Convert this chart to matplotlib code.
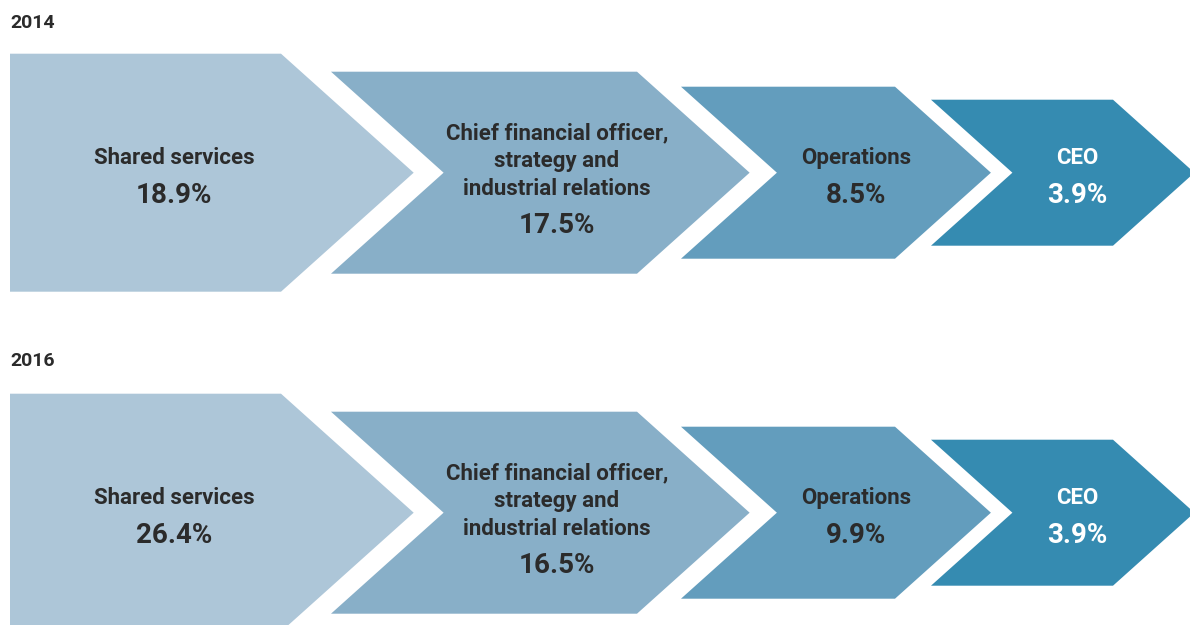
import matplotlib.pyplot as plt
from matplotlib.patches import Polygon

# data
years = ["2014", "2016"]
categories = ["Shared services",
              "Chief financial officer,\nstrategy and\nindustrial relations",
              "Operations",
              "CEO"]
share_2014 = [18.9, 17.5, 8.5, 3.9]
share_2016 = [26.4, 16.5, 9.9, 3.9]
shares = [share_2014, share_2016]

# chevron layout (pixels)
left_x = [10, 331, 681, 931]
body_len = [271, 306, 214, 182]
heights = [238, 202, 172, 146]
text_x = [174, 557, 856, 1077]
colors = ["#adc6d8", "#88afc8", "#639dbd", "#358bb1"]
text_colors = ["#2b2b2b", "#2b2b2b", "#2b2b2b", "white"]
row_mid = [172.7, 512.7]
year_y = [22.7, 360.7]
tip_ratio = 1.115

plt.rcParams['font.family'] = ['Roboto', 'DejaVu Sans']

fig = plt.figure(figsize=(11.9, 6.25), dpi=100)
ax = fig.add_axes([0, 0, 1, 1])
ax.set_xlim(0, 1190)
ax.set_ylim(625, 0)
ax.axis("off")

for r, year in enumerate(years):
    ym = row_mid[r]
    ax.text(10, year_y[r], year, fontsize=14, fontweight="bold",
            color="#2b2b2b", ha="left", va="center")
    for i, cat in enumerate(categories):
        h = heights[i] / 2
        d = h * tip_ratio
        x0 = left_x[i]
        x1 = x0 + body_len[i]
        pts = [(x0, ym - h), (x1, ym - h), (x1 + d, ym), (x1, ym + h), (x0, ym + h)]
        if i > 0:
            pts.append((x0 + d, ym))
        ax.add_patch(Polygon(pts, closed=True, facecolor=colors[i], edgecolor="none"))

        # vertical offsets of label block and percentage from the row middle
        n = cat.count("\n") + 1
        pct_dy = 22.7 + (n - 1) * 15
        lab_dy = pct_dy - 37.7 - (n - 1) * 13.5 + 0.3
        ax.text(text_x[i], ym + lab_dy, cat, fontsize=16, fontweight="bold",
                color=text_colors[i], ha="center", va="center", linespacing=1.33)
        ax.text(text_x[i], ym + pct_dy, f"{shares[r][i]:.1f}%", fontsize=20,
                fontweight="bold", color=text_colors[i], ha="center", va="center")

fig.savefig("out.png", dpi=100)
